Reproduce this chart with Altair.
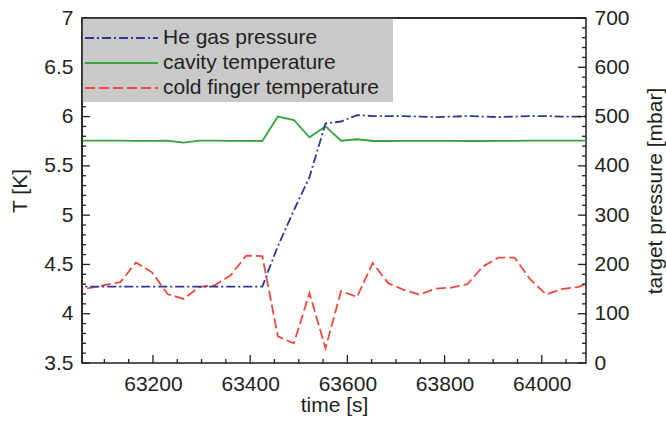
import altair as alt
import numpy as np
import pandas as pd

# ---- data ----
time_s = [63036, 63068, 63100, 63133, 63165, 63198, 63230, 63263, 63295, 63328,
          63360, 63392, 63425, 63457, 63490, 63522, 63555, 63587, 63620, 63652,
          63684, 63717, 63749, 63782, 63814, 63847, 63879, 63911, 63944, 63976,
          64009, 64041, 64074, 64106]

he_pressure = [155, 155, 155, 155, 155, 155, 155, 155, 155, 155,
               155, 155, 155, 237, 310, 377, 486, 490, 503, 501,
               501, 501, 500, 499, 500, 501, 500, 499, 500, 501,
               501, 500, 500, 501]

cavity_T = [5.755, 5.755, 5.756, 5.755, 5.754, 5.754, 5.755, 5.735, 5.755, 5.755,
            5.754, 5.753, 5.752, 6.000, 5.965, 5.790, 5.900, 5.755, 5.770, 5.752,
            5.752, 5.753, 5.754, 5.754, 5.753, 5.752, 5.752, 5.753, 5.754, 5.755,
            5.755, 5.755, 5.756, 5.756]

finger_T = [4.24, 4.26, 4.29, 4.32, 4.52, 4.42, 4.20, 4.15, 4.27, 4.29,
            4.39, 4.59, 4.585, 3.77, 3.70, 4.21, 3.65, 4.23, 4.17, 4.515,
            4.31, 4.24, 4.195, 4.255, 4.265, 4.30, 4.48, 4.57, 4.57, 4.35,
            4.195, 4.25, 4.27, 4.33]

series_labels = ["He gas pressure", "cavity temperature", "cold finger temperature"]
series_colors = ["#2b3893", "#36a43c", "#f0483c"]
series_dash = [[9, 3, 2, 3], [1, 0], [10, 4]]

x_major = [63200, 63400, 63600, 63800, 64000]
t_major = [3.5, 4, 4.5, 5, 5.5, 6, 6.5, 7]
p_major = [0, 100, 200, 300, 400, 500, 600, 700]

x_minor = [v for v in np.arange(63100, 64100, 50).tolist() if v not in x_major]
t_minor = [round(v, 1) for v in np.arange(3.6, 7.0, 0.1).tolist() if round(v, 1) not in t_major]
p_minor = [v for v in range(20, 700, 20) if v not in p_major]

# ---- layout ----
W, H = 504, 345
INK = "#231f20"
FONT = "Liberation Sans"
FS = 21

df = pd.DataFrame({"time": time_s, "pressure": he_pressure,
                   "cavity": cavity_T, "finger": finger_T})

xscale = alt.Scale(domain=[63054, 64091], nice=False, zero=False)
tscale = alt.Scale(domain=[3.5, 7], nice=False, zero=False)
pscale = alt.Scale(domain=[0, 700], nice=False, zero=False)

x_axis = alt.Axis(title="time [s]", values=x_major, format="d", labelPadding=10,
                  titlePadding=0)
t_axis = alt.Axis(title="T [K]", values=t_major, format="~g",
                  labelPadding=9, titlePadding=13)
p_axis = alt.Axis(title="target pressure [mbar]", orient="right",
                  values=p_major, format="d", labelPadding=8,
                  titleAngle=270, titleX=69, titleY=H / 2,
                  titleAlign="center", titleBaseline="middle")

base = alt.Chart(df)

green = base.mark_line(color=series_colors[1], strokeWidth=1.8, clip=True).encode(
    x=alt.X("time:Q", scale=xscale, axis=x_axis),
    y=alt.Y("cavity:Q", scale=tscale, axis=t_axis),
)
red = base.mark_line(color=series_colors[2], strokeWidth=1.8,
                     strokeDash=series_dash[2], clip=True).encode(
    x=alt.X("time:Q", scale=xscale, axis=x_axis),
    y=alt.Y("finger:Q", scale=tscale, axis=t_axis),
)


def yticks(vals, scale, axis, x0, x1):
    return alt.Chart(pd.DataFrame({"v": vals})).mark_rule(
        color=INK, strokeWidth=1.3).encode(
        y=alt.Y("v:Q", scale=scale, axis=axis),
        x=alt.value(x0), x2=alt.value(x1))


def xticks(vals, length):
    return alt.Chart(pd.DataFrame({"v": vals})).mark_rule(
        color=INK, strokeWidth=1.3).encode(
        x=alt.X("v:Q", scale=xscale, axis=x_axis),
        y=alt.value(H), y2=alt.value(H - length))


temp_group = alt.layer(
    green, red,
    yticks(t_major, tscale, t_axis, 0, 8),
    yticks(t_minor, tscale, t_axis, 0, 4),
)

blue = base.mark_line(color=series_colors[0], strokeWidth=1.8,
                      strokeDash=series_dash[0], clip=True).encode(
    x=alt.X("time:Q", scale=xscale, axis=x_axis),
    y=alt.Y("pressure:Q", scale=pscale, axis=p_axis),
)

one = pd.DataFrame({"k": [0]})
legend_layers = [
    alt.Chart(one).mark_rect(color="#c9c9c9").encode(
        x=alt.value(0), x2=alt.value(311), y=alt.value(0), y2=alt.value(84))
]
row_y = [20, 45, 70]
for i, lab in enumerate(series_labels):
    legend_layers.append(
        alt.Chart(one).mark_rule(color=series_colors[i], strokeWidth=1.8,
                                 strokeDash=series_dash[i]).encode(
            x=alt.value(3), x2=alt.value(76), y=alt.value(row_y[i])))
    legend_layers.append(
        alt.Chart(pd.DataFrame({"label": [lab]})).mark_text(
            align="left", baseline="middle", font=FONT, fontSize=FS,
            color=INK).encode(
            text="label:N", x=alt.value(81), y=alt.value(row_y[i])))

border = [
    alt.Chart(one).mark_rule(color=INK, strokeWidth=1.5).encode(
        x=alt.value(0), x2=alt.value(W), y=alt.value(0)),
    alt.Chart(one).mark_rule(color=INK, strokeWidth=1.5).encode(
        x=alt.value(0), y=alt.value(0), y2=alt.value(H)),
]

press_group = alt.layer(
    blue,
    yticks(p_major, pscale, p_axis, W, W - 8),
    yticks(p_minor, pscale, p_axis, W, W - 4),
    xticks(x_major, 8),
    xticks(x_minor, 4),
    *legend_layers,
    *border,
)

chart = alt.layer(temp_group, press_group).resolve_scale(
    y="independent"
).properties(
    width=W, height=H,
    autosize=alt.AutoSizeParams(type="none"),
    padding={"left": 82, "top": 18, "right": 666 - 82 - W, "bottom": 426 - 18 - H},
    background="white",
).configure_view(
    stroke=INK, strokeWidth=1.5
).configure_axis(
    grid=False, ticks=False, domain=False,
    labelFont=FONT, labelFontSize=FS, labelColor=INK,
    titleFont=FONT, titleFontSize=FS, titleFontWeight="normal", titleColor=INK,
)

chart.save("out.html", embed_options={"renderer": "svg", "actions": False})
